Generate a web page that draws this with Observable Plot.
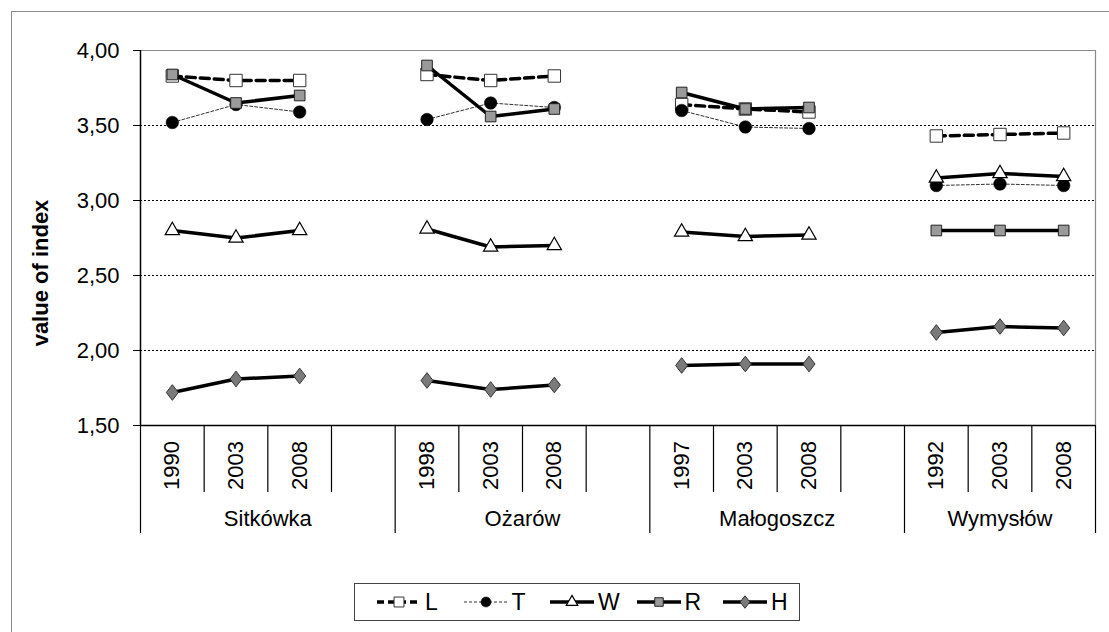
<!DOCTYPE html>
<html><head><meta charset="utf-8">
<script src="https://cdn.jsdelivr.net/npm/d3@7"></script>
<script src="https://cdn.jsdelivr.net/npm/@observablehq/plot@0.6"></script>
<style>
html,body{margin:0;padding:0;background:#fff;overflow:hidden;width:1109px;height:632px;}
#wrap{position:relative;width:1109px;height:632px;font-family:"Liberation Sans",Arial,sans-serif;overflow:hidden;}
#frame{position:absolute;left:11px;top:11px;width:1300px;height:800px;border:1px solid #8a8a8a;}
#chart{position:absolute;left:0;top:0;}
#legend{position:absolute;left:354px;top:583px;width:444px;height:36px;border:1.5px solid #444;background:#fff;}
.item{position:absolute;top:0;height:36px;display:flex;align-items:center;font-size:23px;color:#000;}
.item svg{margin-right:4px;}
</style></head>
<body><div id="wrap"><div id="frame"></div><div id="chart"></div><div id="legend"></div></div>
<script>
// ---- data ----
const groups = ["Sitkówka", "Ożarów", "Małogoszcz", "Wymysłów"];
const years = [["1990", "2003", "2008"], ["1998", "2003", "2008"], ["1997", "2003", "2008"], ["1992", "2003", "2008"]];
const seriesNames = ["L", "T", "W", "R", "H"];
const valuesL = [3.83, 3.80, 3.80, 3.84, 3.80, 3.83, 3.64, 3.61, 3.59, 3.43, 3.44, 3.45];
const valuesT = [3.52, 3.64, 3.59, 3.54, 3.65, 3.62, 3.60, 3.49, 3.48, 3.10, 3.11, 3.10];
const valuesW = [2.80, 2.75, 2.80, 2.81, 2.69, 2.70, 2.79, 2.76, 2.77, 3.15, 3.18, 3.16];
const valuesR = [3.84, 3.65, 3.70, 3.90, 3.56, 3.61, 3.72, 3.61, 3.62, 2.80, 2.80, 2.80];
const valuesH = [1.72, 1.81, 1.83, 1.80, 1.74, 1.77, 1.90, 1.91, 1.91, 2.12, 2.16, 2.15];
const yTicks = [1.5, 2.0, 2.5, 3.0, 3.5, 4.0];
const gridValues = [2.0, 2.5, 3.0, 3.5];

const seriesValues = {L: valuesL, T: valuesT, W: valuesW, R: valuesR, H: valuesH};

// category slots: 3 years per group + one empty slot between groups
const slotsPerGroup = 4;
const slotOf = (g, i) => g * slotsPerGroup + i;
const nSlots = slotsPerGroup * (groups.length - 1) + years[groups.length - 1].length;

const rows = [];
seriesNames.forEach(s => {
  let k = 0;
  groups.forEach((g, gi) => years[gi].forEach((y, yi) => {
    rows.push({series: s, group: g, year: y, slot: slotOf(gi, yi), value: seriesValues[s][k++]});
  }));
});
const yearLabels = [];
groups.forEach((g, gi) => years[gi].forEach((y, yi) => yearLabels.push({slot: slotOf(gi, yi), label: y})));

const groupBounds = [];
const yearSeps = [];
groups.forEach((g, gi) => {
  const start = slotOf(gi, 0) - 0.5;
  const end = gi < groups.length - 1 ? start + slotsPerGroup : nSlots - 0.5;
  groupBounds.push(start);
  if (gi === groups.length - 1) groupBounds.push(end);
  for (let b = start + 1; b < end; b++) yearSeps.push(b);
});
const groupLabels = groups.map((g, gi) => {
  const start = slotOf(gi, 0) - 0.5;
  const end = gi < groups.length - 1 ? start + slotsPerGroup : nSlots - 0.5;
  return {x: (start + end) / 2, label: g};
});

// ---- styles ----
const tallDiamond = {
  draw(ctx, size) {
    const w = Math.sqrt(size) * 0.5, h = w * 1.3;
    ctx.moveTo(0, -h); ctx.lineTo(w, 0); ctx.lineTo(0, h); ctx.lineTo(-w, 0); ctx.closePath();
  }
};
const styles = {
  L: {line: {stroke: "#000", strokeWidth: 3.5, strokeDasharray: "9,5"}, dot: {symbol: "square", r: 7, fill: "#fff", stroke: "#333", strokeWidth: 1}},
  T: {line: {stroke: "#333", strokeWidth: 1, strokeDasharray: "3,2"}, dot: {symbol: "circle", r: 6.3, fill: "#000", stroke: "#000", strokeWidth: 0.5}},
  W: {line: {stroke: "#000", strokeWidth: 3.5}, dot: {symbol: "triangle", r: 5.3, fill: "#fff", stroke: "#000", strokeWidth: 1.2}},
  R: {line: {stroke: "#000", strokeWidth: 3.5}, dot: {symbol: "square", r: 6, fill: "#9a9a9a", stroke: "#222", strokeWidth: 1}},
  H: {line: {stroke: "#000", strokeWidth: 3.5}, dot: {symbol: tallDiamond, r: 6.8, fill: "#7a7a7a", stroke: "#333", strokeWidth: 1}}
};

const chartW = 1109, chartH = 560, plotTop = 50, plotBottom = 425;
const marks = [
  Plot.ruleY(gridValues, {stroke: "#000", strokeWidth: 1, strokeDasharray: "2,2"}),
  Plot.ruleY([yTicks[yTicks.length - 1]], {stroke: "#8a8a8a", strokeWidth: 1.2}),
  Plot.ruleX([nSlots - 0.5], {stroke: "#8a8a8a", strokeWidth: 1.2}),
  Plot.ruleX([-0.5], {stroke: "#000", strokeWidth: 1.5}),
  Plot.ruleY([yTicks[0]], {stroke: "#000", strokeWidth: 1.5}),
  Plot.axisY({ticks: yTicks, label: null, tickFormat: d => d.toFixed(2).replace(".", ","), tickSize: 7, tickPadding: 14, fontSize: 22, stroke: "#000"}),
  Plot.axisX({ticks: yearSeps, label: null, tickSize: 67, tickFormat: () => "", stroke: "#000", strokeWidth: 1.2}),
  Plot.axisX({ticks: groupBounds, label: null, tickSize: 108, tickFormat: () => "", stroke: "#000", strokeWidth: 1.2}),
  Plot.text(yearLabels, {x: "slot", text: "label", frameAnchor: "bottom", dy: 40, rotate: -90, textAnchor: "middle", lineAnchor: "middle", fontSize: 22}),
  Plot.text(groupLabels, {x: "x", text: "label", frameAnchor: "bottom", dy: 93, textAnchor: "middle", lineAnchor: "middle", fontSize: 22}),
  Plot.text(["value of index"], {text: d => d, frameAnchor: "left", dx: -100, dy: 35, rotate: -90, textAnchor: "middle", fontWeight: "bold", fontSize: 22, lineAnchor: "middle"})
];
seriesNames.forEach(s => {
  const d = rows.filter(r => r.series === s);
  marks.push(Plot.line(d, {x: "slot", y: "value", z: "group", ...styles[s].line}));
  marks.push(Plot.dot(d, {x: "slot", y: "value", ...styles[s].dot}));
});

const chart = Plot.plot({
  width: chartW, height: chartH,
  marginLeft: 140, marginRight: chartW - 1095, marginTop: plotTop, marginBottom: chartH - plotBottom,
  x: {type: "linear", domain: [-0.5, nSlots - 0.5], axis: null},
  y: {type: "linear", domain: [yTicks[0], yTicks[yTicks.length - 1]], axis: null},
  style: {fontFamily: "'Liberation Sans', Arial, sans-serif", fontSize: "22px", color: "#000", background: "transparent", overflow: "visible"},
  marks
});
document.getElementById("chart").appendChild(chart);

// ---- legend ----
const legend = d3.select("#legend");
seriesNames.forEach((s, i) => {
  const item = legend.append("div").attr("class", "item").style("left", (22 + i * 86.5) + "px");
  const svg = item.append("svg").attr("width", 44).attr("height", 36);
  const st = styles[s];
  svg.append("line").attr("x1", 0).attr("x2", 44).attr("y1", 18).attr("y2", 18)
    .attr("stroke", st.line.stroke).attr("stroke-width", st.line.strokeWidth)
    .attr("stroke-dasharray", s === "L" ? "7,4" : (st.line.strokeDasharray || null));
  const sym = typeof st.dot.symbol === "string" ? ({square: d3.symbolSquare, circle: d3.symbolCircle, triangle: d3.symbolTriangle})[st.dot.symbol] : st.dot.symbol;
  const rr = st.dot.r * 0.8;
  svg.append("path").attr("transform", "translate(22,18)")
    .attr("d", d3.symbol(sym, Math.PI * rr * rr)())
    .attr("fill", st.dot.fill).attr("stroke", st.dot.stroke).attr("stroke-width", st.dot.strokeWidth);
  item.append("span").text(s);
});
</script></body></html>
